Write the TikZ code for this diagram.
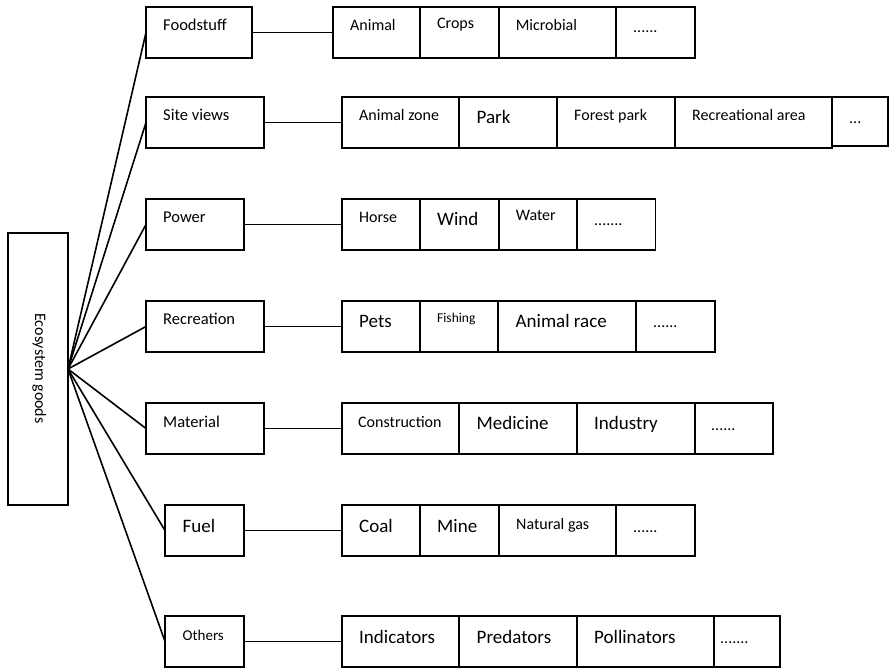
\documentclass[tikz,border=0pt]{standalone}
\usepackage{fontspec}
\setmainfont{Carlito}
\begin{document}
\begin{tikzpicture}[x=1pt,y=-1pt,
  cell/.style={draw, line width=1.9pt, inner sep=0pt, outer sep=0pt},
  link/.style={line width=1.6pt},
  lbl/.style={anchor=base west, inner sep=0pt}]
% canvas
\useasboundingbox (0,0) rectangle (889,668);
% \gbox{name}{x1}{y1}{x2}{y2}{font size}{text dx}{text dy}{text}
\newcommand\gbox[9]{%
  \node[cell, anchor=north west, minimum width={#4pt-#2pt}, minimum height={#5pt-#3pt}] (#1) at (#2,#3) {};
  \node[lbl, font=\fontsize{#6}{#6}\selectfont] (#1-t) at (#2+#7,#3+#8) {#9};}

% root
\node[cell, anchor=north west, minimum width=60pt, minimum height=272pt] (eco) at (8,233) {};
\node[rotate=-90, anchor=base, font=\fontsize{16}{16}\selectfont] (eco-t) at (35,368.5) {Ecosystem goods};
\coordinate (hub) at (eco.east);

% categories
\gbox{food}{146}{7}{252}{58}{16.5}{17}{24}{Foodstuff}
\gbox{site}{146}{97}{264}{148}{16.5}{17}{24}{Site views}
\gbox{power}{146}{199}{244}{250}{16.5}{17}{24}{Power}
\gbox{recr}{146}{301}{264}{352}{16.5}{17}{24}{Recreation}
\gbox{mat}{146}{403}{264}{454}{16.5}{17}{24}{Material}
\gbox{fuel}{165}{505}{244}{556}{19}{17.5}{27.5}{Fuel}
\gbox{oth}{165}{616}{244}{667}{15}{17.5}{24}{Others}

% Foodstuff items
\gbox{f1}{333}{7}{420}{58}{16}{17}{24}{Animal}
\gbox{f2}{420}{7}{498.6}{58}{16}{17}{22}{Crops}
\gbox{f3}{498.6}{7}{616}{58}{16}{17}{24}{Microbial}
\gbox{f4}{616}{7}{695}{58}{16}{17}{26}{......}

% Site views items
\gbox{s1}{342}{97}{459.4}{148}{16}{17}{24}{Animal zone}
\gbox{s2}{459.4}{97}{557}{148}{19}{17}{27}{Park}
\gbox{s3}{557}{97}{675}{148}{16}{17}{24}{Forest park}
\gbox{s4}{675}{97}{832}{148}{16}{17}{24}{Recreational area}
\gbox{s5}{832}{97}{888}{146}{16}{17}{27}{...}

% Power items
\gbox{p1}{342}{199}{420}{250}{16}{17}{24}{Horse}
\gbox{p2}{420}{199}{498.6}{250}{19}{17}{27}{Wind}
\gbox{p3}{498.6}{199}{577}{250}{16}{17}{22}{Water}
\gbox{p4}{577}{199}{655.5}{250}{16}{17}{27}{.......}

% Recreation items
\gbox{r1}{342}{301}{420}{352}{19}{17}{27}{Pets}
\gbox{r2}{420}{301}{498}{352}{13.5}{17}{22}{Fishing}
\gbox{r3}{498}{301}{636}{352}{19}{17.5}{27}{Animal race}
\gbox{r4}{636}{301}{715}{352}{16}{17}{26}{......}

% Material items
\gbox{m1}{342}{403}{459}{454}{16}{16}{24}{Construction}
\gbox{m2}{459}{403}{577}{454}{19}{17.5}{26.5}{Medicine}
\gbox{m3}{577}{403}{695}{454}{19}{17}{26.5}{Industry}
\gbox{m4}{695}{403}{773}{454}{16}{16}{27}{......}

% Fuel items
\gbox{u1}{342}{505}{420}{556}{19}{17}{27.5}{Coal}
\gbox{u2}{420}{505}{499}{556}{19}{17}{27.5}{Mine}
\gbox{u3}{499}{505}{616}{556}{16}{17}{24}{Natural gas}
\gbox{u4}{616}{505}{695}{556}{16}{17}{27}{......}

% Others items
\gbox{o1}{342}{616}{459}{667}{19}{17}{27}{Indicators}
\gbox{o2}{459}{616}{577}{667}{19}{17.5}{27}{Predators}
\gbox{o3}{577}{616}{714}{667}{19}{17}{27}{Pollinators}
\gbox{o4}{714}{616}{780}{667}{16}{6}{27}{.......}

% connectors from the root
\foreach \c in {food,site,power,recr,mat,fuel,oth}
  \draw[link] (hub) -- (\c.west);

% connectors to the item rows
\draw[link] (food.east) -- (f1.west);
\draw[link] (site.east) -- (s1.west);
\draw[link] (power.east) -- (p1.west);
\draw[link] (recr.east) -- (r1.west);
\draw[link] (mat.east) -- (m1.west);
\draw[link] (fuel.east) -- (u1.west);
\draw[link] (oth.east) -- (o1.west);
\end{tikzpicture}
\end{document}
